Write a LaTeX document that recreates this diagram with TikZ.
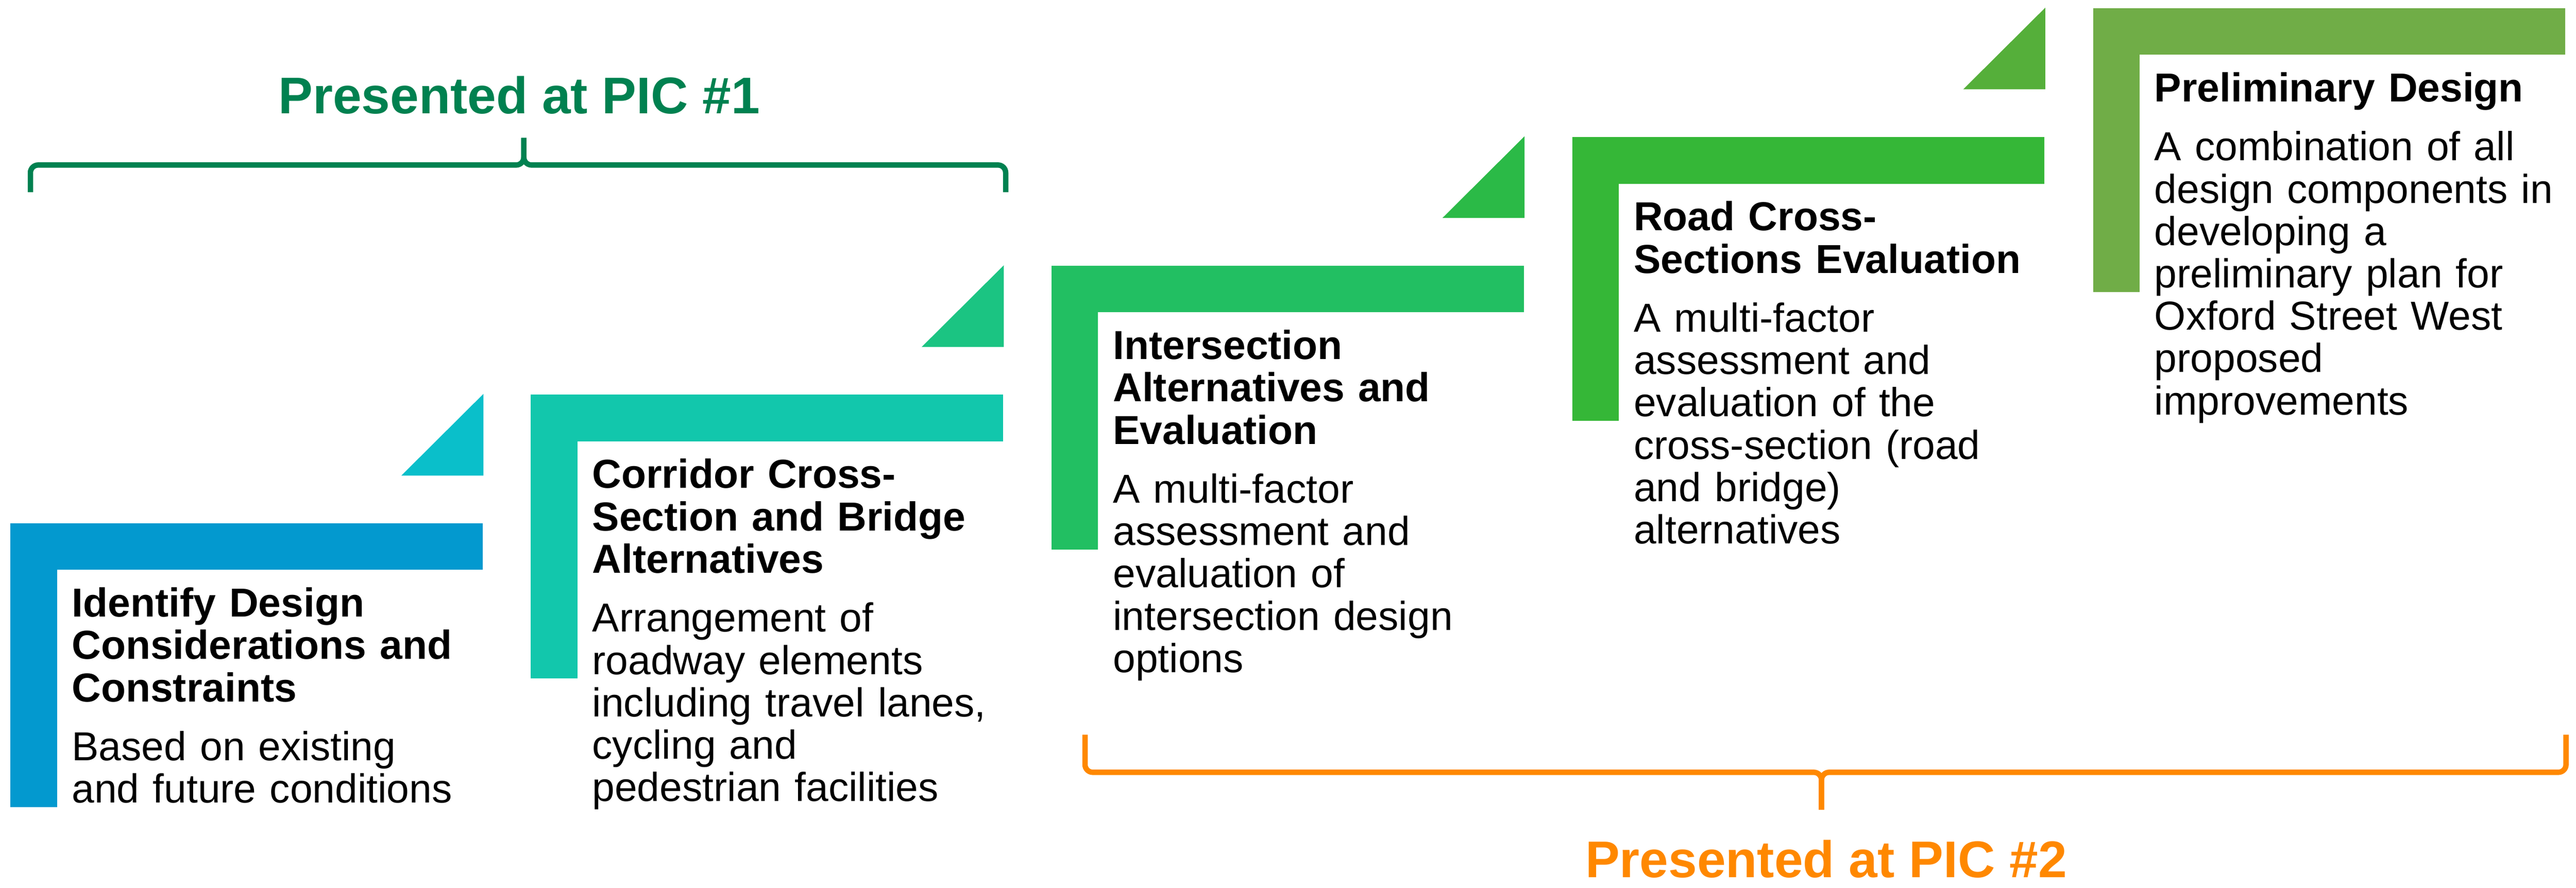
\documentclass[tikz,border=0pt]{standalone}
\usepackage{fontspec}
\setmainfont{Liberation Sans}
\definecolor{stepA}{HTML}{0399CF}
\definecolor{stepB}{HTML}{12C7AC}
\definecolor{stepC}{HTML}{22BF62}
\definecolor{stepD}{HTML}{35B737}
\definecolor{stepE}{HTML}{70AD47}
\definecolor{triA}{HTML}{0ABFCA}
\definecolor{triB}{HTML}{1BC482}
\definecolor{triC}{HTML}{2BBA47}
\definecolor{triD}{HTML}{55AF3A}
\definecolor{picA}{HTML}{008150}
\definecolor{picB}{HTML}{FF8800}
\tikzset{
  steptext/.style={anchor=base west, text width=11cm, align=left, inner sep=0pt,
    font=\fontsize{29.9}{31.3}\selectfont},
  piclabel/.style={anchor=base, inner sep=0pt, font=\bfseries\fontsize{38.1}{40}\selectfont},
  bracket/.style={line width=0.14cm, rounded corners=0.2cm},
}
\begin{document}
\begin{tikzpicture}[y=-1cm]
  \useasboundingbox (0,0) rectangle (66.88,23.05);
  \foreach \x/\y/\c in {0.27/13.59/stepA, 13.78/10.25/stepB, 27.30/6.90/stepC,
                        40.82/3.56/stepD, 54.34/0.21/stepE} {
    \fill[\c] (\x,\y) rectangle ++(12.26,1.21);
    \fill[\c] (\x,\y) rectangle ++(1.21,7.37);
  }
  \foreach \x/\y/\c in {12.55/13.59/triA, 26.06/10.25/triB, 39.58/6.90/triC, 53.10/3.56/triD}
    \fill[\c] (\x,\y-1.24) -- (\x,\y-3.36) -- (\x-2.13,\y-1.24) -- cycle;

  \node[steptext] (s1) at (1.86,16.02) {{\bfseries Identify Design\\Considerations and\\Constraints}\\[0.43cm]Based on existing\\and future conditions};
  \node[steptext] (s2) at (15.37,12.68) {{\bfseries Corridor Cross-\\Section and Bridge\\Alternatives}\\[0.43cm]Arrangement of\\roadway elements\\including travel lanes,\\cycling and\\pedestrian facilities};
  \node[steptext] (s3) at (28.89,9.33) {{\bfseries Intersection\\Alternatives and\\Evaluation}\\[0.43cm]A multi-factor\\assessment and\\evaluation of\\intersection design\\options};
  \node[steptext] (s4) at (42.41,5.99) {{\bfseries Road Cross-\\Sections Evaluation}\\[0.43cm]A multi-factor\\assessment and\\evaluation of the\\cross-section (road\\and bridge)\\alternatives};
  \node[steptext] (s5) at (55.93,2.64) {{\bfseries Preliminary Design}\\[0.43cm]A combination of all\\design components in\\developing a\\preliminary plan for\\Oxford Street West\\proposed\\improvements};

  \draw[bracket, picA] (0.79,4.99) |- (13.60,4.285) -- (13.60,3.58);
  \draw[bracket, picA] (26.11,4.99) |- (13.60,4.285) -- (13.60,3.58);
  \draw[bracket, picB] (28.17,19.08) |- (47.29,20.055) -- (47.29,21.03);
  \draw[bracket, picB] (66.62,19.08) |- (47.29,20.055) -- (47.29,21.03);

  \node[piclabel, text=picA] (pic1) at (13.48,2.95) {Presented at PIC \#1};
  \node[piclabel, text=picB] (pic2) at (47.41,22.79) {Presented at PIC \#2};
\end{tikzpicture}
\end{document}
